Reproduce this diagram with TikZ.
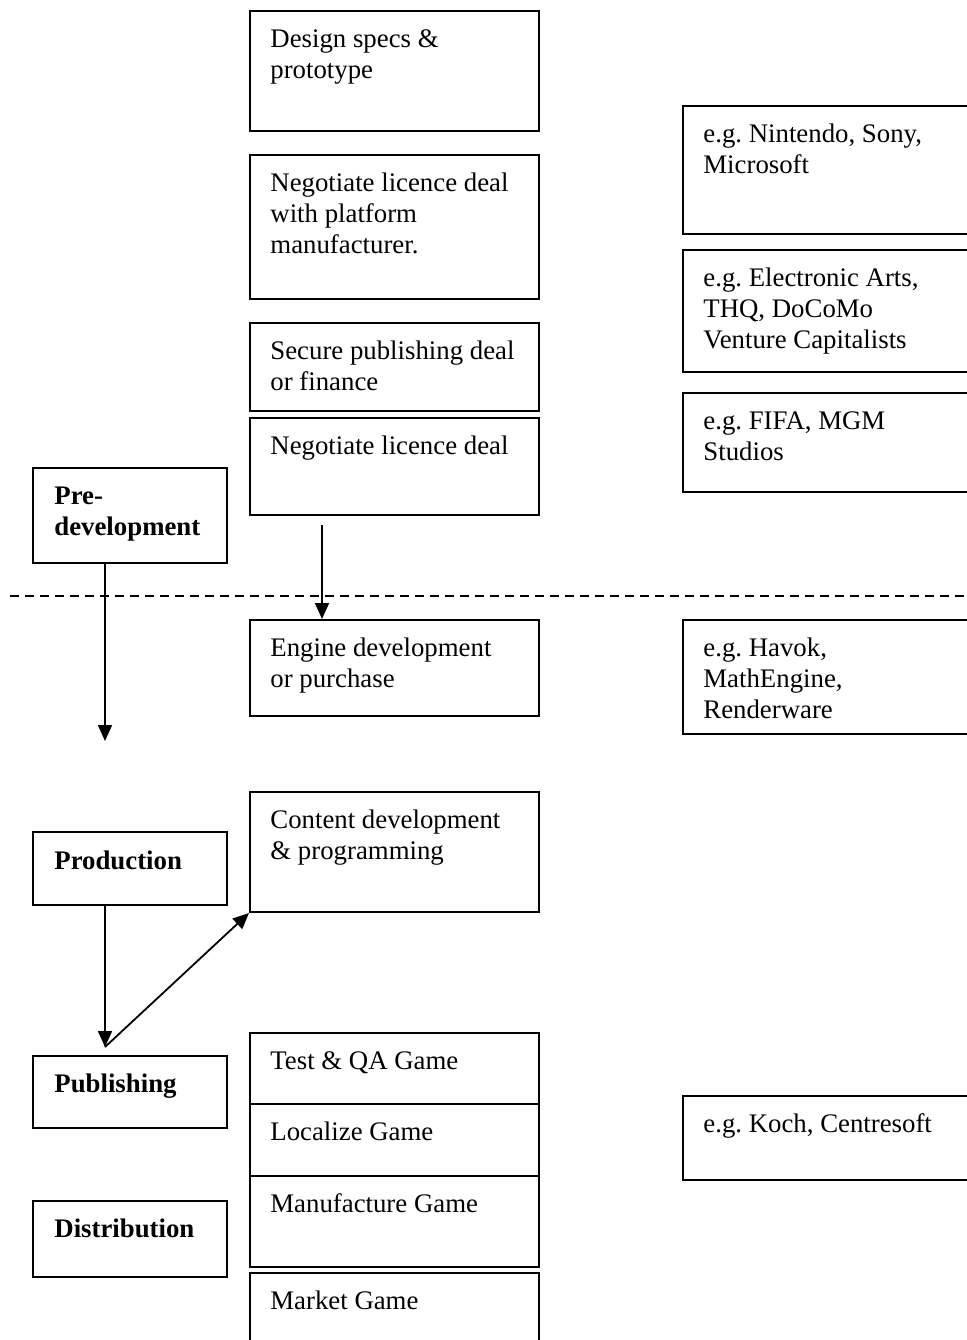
\documentclass[tikz,border=0pt]{standalone}
\usepackage{fontspec}
\setmainfont{Liberation Serif}
\usetikzlibrary{arrows.meta}
\newcommand\firstln{\rule{0pt}{10pt}}
\frenchspacing
\begin{document}
\frenchspacing
\begin{tikzpicture}[x=0.5pt,y=-0.5pt,
  box/.style={draw, line width=1pt, rectangle, inner sep=0pt},
  txt/.style={anchor=north west, inner sep=0pt, align=left, font=\fontsize{13.4}{15.5}\selectfont},
  btxt/.style={txt, font=\fontsize{13.4}{15.5}\selectfont\bfseries},
  arr/.style={line width=0.9pt, -{Triangle[length=8pt,width=7pt]}},
  dline/.style={line width=0.7pt, dash pattern=on 4.5pt off 3pt},
]
\useasboundingbox (0,0) rectangle (967,1340);
\clip (0,0) rectangle (967,1340);

% centre column
\node[box, minimum width=144.5pt, minimum height=60pt] (design) at (394.5,71) {};
\node[box, minimum width=144.5pt, minimum height=72pt] (negplat) at (394.5,227) {};
\node[box, minimum width=144.5pt, minimum height=44pt] (secure) at (394.5,367) {};
\node[box, minimum width=144.5pt, minimum height=48.5pt] (neglic) at (394.5,466.5) {};
\node[box, minimum width=144.5pt, minimum height=48pt] (engine) at (394.5,668) {};
\node[box, minimum width=144.5pt, minimum height=60pt] (content) at (394.5,852) {};
\node[box, minimum width=144.5pt, minimum height=35.5pt] (test) at (394.5,1068.5) {};
\node[box, minimum width=144.5pt, minimum height=36pt] (localize) at (394.5,1140) {};
\node[box, minimum width=144.5pt, minimum height=45.5pt] (manuf) at (394.5,1221.5) {};
\node[box, minimum width=144.5pt, minimum height=38.5pt] (market) at (394.5,1311.5) {};

\node[txt] (designt) at ([shift={(21,17)}]design.north west) {\firstln Design specs \&\\prototype};
\node[txt] (negplatt) at ([shift={(21,17)}]negplat.north west) {\firstln Negotiate licence deal\\with platform\\manufacturer.};
\node[txt] (securet) at ([shift={(21,17)}]secure.north west) {\firstln Secure publishing deal\\or finance};
\node[txt] (neglict) at ([shift={(21,17)}]neglic.north west) {\firstln Negotiate licence deal};
\node[txt] (enginet) at ([shift={(21,17)}]engine.north west) {\firstln Engine development\\or purchase};
\node[txt] (contentt) at ([shift={(21,17)}]content.north west) {\firstln Content development\\\& programming};
\node[txt] (testt) at ([shift={(21,17)}]test.north west) {\firstln Test \& QA Game};
\node[txt] (localizet) at ([shift={(21,17)}]localize.north west) {\firstln Localize Game};
\node[txt] (manuft) at ([shift={(21,17)}]manuf.north west) {\firstln Manufacture Game};
\node[txt] (markett) at ([shift={(21,17)}]market.north west) {\firstln Market Game};

% stage boxes
\node[box, minimum width=97pt, minimum height=47.5pt] (predev) at (130,515.5) {};
\node[box, minimum width=97pt, minimum height=36.5pt] (production) at (130,868.5) {};
\node[box, minimum width=97pt, minimum height=36pt] (publishing) at (130,1092) {};
\node[box, minimum width=97pt, minimum height=38pt] (distribution) at (130,1239) {};

\node[btxt] (predevt) at ([shift={(22,17)}]predev.north west) {\firstln Pre-\\development};
\node[btxt] (productiont) at ([shift={(22,18)}]production.north west) {\firstln Production};
\node[btxt] (publishingt) at ([shift={(22,17)}]publishing.north west) {\firstln Publishing};
\node[btxt] (distributiont) at ([shift={(22,17)}]distribution.north west) {\firstln Distribution};

% right column
\node[box, minimum width=148.5pt, minimum height=64pt] (nintendo) at (831.5,170) {};
\node[box, minimum width=148.5pt, minimum height=61pt] (ea) at (831.5,311) {};
\node[box, minimum width=148.5pt, minimum height=49.5pt] (fifa) at (831.5,442.5) {};
\node[box, minimum width=148.5pt, minimum height=57pt] (havok) at (831.5,677) {};
\node[box, minimum width=148.5pt, minimum height=42pt] (koch) at (831.5,1138) {};

\node[txt] (nintendot) at ([shift={(21,17)}]nintendo.north west) {\firstln e.g. Nintendo, Sony,\\Microsoft};
\node[txt] (eat) at ([shift={(21,17)}]ea.north west) {\firstln e.g. Electronic Arts,\\THQ, DoCoMo\\Venture Capitalists};
\node[txt] (fifat) at ([shift={(21,17)}]fifa.north west) {\firstln e.g. FIFA, MGM\\Studios};
\node[txt] (havokt) at ([shift={(21,17)}]havok.north west) {\firstln e.g. Havok,\\MathEngine,\\Renderware};
\node[txt] (kocht) at ([shift={(21,17)}]koch.north west) {\firstln e.g. Koch, Centresoft};

% dashed divider
\coordinate (dl) at (10,596);
\coordinate (dr) at (967,596);
\draw[dline] (dl) -- (dr);

% arrows
\coordinate (pdend) at (105,741);
\draw[arr] (predev.south -| pdend) -- (pdend);
\coordinate (nlstart) at (322,525);
\draw[arr] (nlstart) -- (nlstart |- engine.north);
\coordinate (pubtop) at (105,1047);
\draw[arr] (production.south -| pubtop) -- (pubtop);
\draw[arr] (pubtop) -- (content.south west);
\end{tikzpicture}
\end{document}
